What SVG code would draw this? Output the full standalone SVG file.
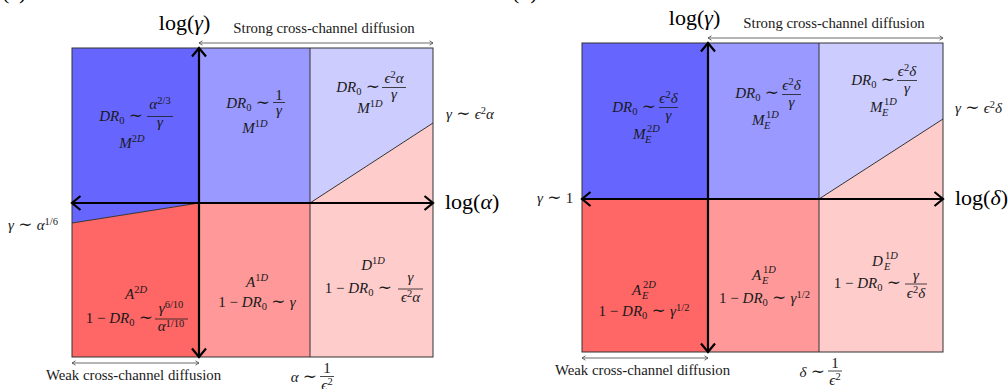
<svg xmlns="http://www.w3.org/2000/svg" width="1008" height="389" viewBox="0 0 1008 389">
<defs>
<style>
.m{font-family:"Liberation Serif","DejaVu Serif",serif;font-size:15px;fill:#1a1a1a}
.i{font-style:italic}
.s{font-size:10.5px}
.t{font-size:17px}
.lb{font-family:"Liberation Serif","DejaVu Serif",serif;font-size:14.8px;fill:#1a1a1a}
.ax{font-family:"Liberation Serif","DejaVu Serif",serif;font-size:22px;fill:#000}
.grid{fill:none;stroke:#333;stroke-width:1}
.axis{stroke:#000;stroke-width:2.2;fill:none}
.thin{stroke:#444;stroke-width:0.8;fill:none}
.bar{stroke:#1a1a1a;stroke-width:0.8}
.b1{fill:#6666ff}.b2{fill:#9999ff}.b3{fill:#ccccff}.r1{fill:#ff6666}.r2{fill:#ff9999}.r3{fill:#ffcccc}
</style>
<marker id="ch" viewBox="-11 -9 13 18" markerWidth="13" markerHeight="18" refX="0" refY="0" orient="auto-start-reverse" markerUnits="userSpaceOnUse">
<path d="M-8.5,-7 L0,0 L-8.5,7" fill="none" stroke="#000" stroke-width="2.2" stroke-linejoin="miter"/>
</marker>
<marker id="sm" viewBox="-6 -4 8 8" markerWidth="8" markerHeight="8" refX="0" refY="0" orient="auto-start-reverse" markerUnits="userSpaceOnUse">
<path d="M-3.5,-2.2 L0,0 L-3.5,2.2" fill="none" stroke="#444" stroke-width="0.8"/>
</marker>
</defs>

<text class="ax" x="2" y="-1">(a)</text>
<text class="ax" x="512" y="-1">(b)</text>

<!-- Panel (a) -->
<g id="a-M2D">
<polygon class="b1" points="72,48 199,48 199,203 72,223"/>
<text class="m" x="143" y="121" text-anchor="end"><tspan class="i">DR</tspan><tspan class="s" dy="2.5">0</tspan><tspan class="t" dy="-2.5"> ∼</tspan></text>
<line class="bar" x1="147" y1="116.5" x2="173" y2="116.5"/>
<text class="m" x="160" y="109" text-anchor="middle"><tspan class="i">α</tspan><tspan class="s" dy="-5.5">2/3</tspan></text>
<text class="m i" x="160" y="127" text-anchor="middle">γ</text>
<text class="m" x="132" y="148" text-anchor="middle"><tspan class="i">M</tspan><tspan class="s" dy="-6">2<tspan class="i">D</tspan></tspan></text>
</g>
<g id="a-M1D-low">
<rect class="b2" x="199" y="48" width="111" height="155"/>
<text class="m" x="270" y="108" text-anchor="end"><tspan class="i">DR</tspan><tspan class="s" dy="2.5">0</tspan><tspan class="t" dy="-2.5"> ∼</tspan></text>
<line class="bar" x1="273" y1="102.5" x2="285" y2="102.5"/>
<text class="m" x="279" y="100" text-anchor="middle">1</text>
<text class="m i" x="279" y="115" text-anchor="middle">γ</text>
<text class="m" x="255" y="133" text-anchor="middle"><tspan class="i">M</tspan><tspan class="s" dy="-6">1<tspan class="i">D</tspan></tspan></text>
</g>
<g id="a-M1D-high">
<polygon class="b3" points="310,48 433,48 433,123 310,203"/>
<text class="m" x="380" y="92" text-anchor="end"><tspan class="i">DR</tspan><tspan class="s" dy="2.5">0</tspan><tspan class="t" dy="-2.5"> ∼</tspan></text>
<line class="bar" x1="382" y1="87.5" x2="406" y2="87.5"/>
<text class="m" x="394" y="83" text-anchor="middle"><tspan class="i">ϵ</tspan><tspan class="s" dy="-5.5">2</tspan><tspan class="i" dy="5.5">α</tspan></text>
<text class="m i" x="394" y="99" text-anchor="middle">γ</text>
<text class="m" x="370" y="113" text-anchor="middle"><tspan class="i">M</tspan><tspan class="s" dy="-6">1<tspan class="i">D</tspan></tspan></text>
</g>
<g id="a-A2D">
<polygon class="r1" points="72,223 199,203 199,357 72,357"/>
<text class="m" x="136" y="299" text-anchor="middle"><tspan class="i">A</tspan><tspan class="s" dy="-6">2<tspan class="i">D</tspan></tspan></text>
<text class="m" x="153" y="323" text-anchor="end">1 − <tspan class="i">DR</tspan><tspan class="s" dy="2.5">0</tspan><tspan class="t" dy="-2.5"> ∼</tspan></text>
<line class="bar" x1="155" y1="319" x2="188" y2="319"/>
<text class="m" x="171" y="313" text-anchor="middle"><tspan class="i">γ</tspan><tspan class="s" dy="-5.5">6/10</tspan></text>
<text class="m" x="171" y="331" text-anchor="middle"><tspan class="i">α</tspan><tspan class="s" dy="-4">1/10</tspan></text>
</g>
<g id="a-A1D">
<rect class="r2" x="199" y="203" width="111" height="154"/>
<text class="m" x="257" y="287" text-anchor="middle"><tspan class="i">A</tspan><tspan class="s" dy="-6">1<tspan class="i">D</tspan></tspan></text>
<text class="m" x="257" y="307" text-anchor="middle">1 − <tspan class="i">DR</tspan><tspan class="s" dy="2.5">0</tspan><tspan class="t" dy="-2.5"> ∼ </tspan><tspan class="i">γ</tspan></text>
</g>
<g id="a-D1D">
<polygon class="r3" points="310,203 433,123 433,357 310,357"/>
<text class="m" x="373" y="270" text-anchor="middle"><tspan class="i">D</tspan><tspan class="s" dy="-6">1<tspan class="i">D</tspan></tspan></text>
<text class="m" x="392" y="293" text-anchor="end">1 − <tspan class="i">DR</tspan><tspan class="s" dy="2.5">0</tspan><tspan class="t" dy="-2.5"> ∼</tspan></text>
<line class="bar" x1="398" y1="289" x2="423" y2="289"/>
<text class="m i" x="410.5" y="282" text-anchor="middle">γ</text>
<text class="m" x="410.5" y="302" text-anchor="middle"><tspan class="i">ϵ</tspan><tspan class="s" dy="-5.5">2</tspan><tspan class="i" dy="5.5">α</tspan></text>
</g>

<!-- Panel (b) -->
<g id="b-ME2D">
<rect class="b1" x="582" y="43" width="126" height="156"/>
<text class="m" x="656" y="112" text-anchor="end"><tspan class="i">DR</tspan><tspan class="s" dy="2.5">0</tspan><tspan class="t" dy="-2.5"> ∼</tspan></text>
<line class="bar" x1="659" y1="107.5" x2="678" y2="107.5"/>
<text class="m" x="668.5" y="103" text-anchor="middle"><tspan class="i">ϵ</tspan><tspan class="s" dy="-5.5">2</tspan><tspan class="i" dy="5.5">δ</tspan></text>
<text class="m i" x="668.5" y="120" text-anchor="middle">γ</text>
<text class="m i" x="633" y="139">M</text>
<text class="m s" x="647" y="132">2<tspan class="i">D</tspan></text>
<text class="m s i" x="645" y="143">E</text>
</g>
<g id="b-ME1D-low">
<rect class="b2" x="708" y="43" width="111" height="156"/>
<text class="m" x="779" y="98" text-anchor="end"><tspan class="i">DR</tspan><tspan class="s" dy="2.5">0</tspan><tspan class="t" dy="-2.5"> ∼</tspan></text>
<line class="bar" x1="782" y1="94.5" x2="801" y2="94.5"/>
<text class="m" x="791.5" y="90" text-anchor="middle"><tspan class="i">ϵ</tspan><tspan class="s" dy="-5.5">2</tspan><tspan class="i" dy="5.5">δ</tspan></text>
<text class="m i" x="791.5" y="107" text-anchor="middle">γ</text>
<text class="m i" x="752" y="125">M</text>
<text class="m s" x="766" y="118">1<tspan class="i">D</tspan></text>
<text class="m s i" x="764" y="129">E</text>
</g>
<g id="b-ME1D-high">
<polygon class="b3" points="819,43 943,43 943,119 819,199"/>
<text class="m" x="895" y="85" text-anchor="end"><tspan class="i">DR</tspan><tspan class="s" dy="2.5">0</tspan><tspan class="t" dy="-2.5"> ∼</tspan></text>
<line class="bar" x1="897" y1="80.5" x2="917" y2="80.5"/>
<text class="m" x="907" y="76" text-anchor="middle"><tspan class="i">ϵ</tspan><tspan class="s" dy="-5.5">2</tspan><tspan class="i" dy="5.5">δ</tspan></text>
<text class="m i" x="907" y="93" text-anchor="middle">γ</text>
<text class="m i" x="870" y="112">M</text>
<text class="m s" x="884" y="105">1<tspan class="i">D</tspan></text>
<text class="m s i" x="882" y="116">E</text>
</g>
<g id="b-AE2D">
<rect class="r1" x="582" y="199" width="126" height="153"/>
<text class="m i" x="632" y="295">A</text>
<text class="m s" x="643" y="288">2<tspan class="i">D</tspan></text>
<text class="m s i" x="642" y="299">E</text>
<text class="m" x="644" y="316" text-anchor="middle">1 − <tspan class="i">DR</tspan><tspan class="s" dy="2.5">0</tspan><tspan class="t" dy="-2.5"> ∼ </tspan><tspan class="i">γ</tspan><tspan class="s" dy="-5.5">1/2</tspan></text>
</g>
<g id="b-AE1D">
<rect class="r2" x="708" y="199" width="111" height="153"/>
<text class="m i" x="752" y="280">A</text>
<text class="m s" x="763" y="273">1<tspan class="i">D</tspan></text>
<text class="m s i" x="762" y="284">E</text>
<text class="m" x="764.5" y="303" text-anchor="middle">1 − <tspan class="i">DR</tspan><tspan class="s" dy="2.5">0</tspan><tspan class="t" dy="-2.5"> ∼ </tspan><tspan class="i">γ</tspan><tspan class="s" dy="-5.5">1/2</tspan></text>
</g>
<g id="b-DE1D">
<polygon class="r3" points="819,199 943,119 943,352 819,352"/>
<text class="m i" x="872" y="266">D</text>
<text class="m s" x="885" y="259">1<tspan class="i">D</tspan></text>
<text class="m s i" x="884" y="270">E</text>
<text class="m" x="901" y="288" text-anchor="end">1 − <tspan class="i">DR</tspan><tspan class="s" dy="2.5">0</tspan><tspan class="t" dy="-2.5"> ∼</tspan></text>
<line class="bar" x1="905" y1="284" x2="927" y2="284"/>
<text class="m i" x="916" y="280" text-anchor="middle">γ</text>
<text class="m" x="916" y="298" text-anchor="middle"><tspan class="i">ϵ</tspan><tspan class="s" dy="-5.5">2</tspan><tspan class="i" dy="5.5">δ</tspan></text>
</g>

<!-- region boundaries -->
<g id="boundaries">
<rect class="grid" x="72" y="48" width="361" height="309"/>
<line class="grid" x1="310" y1="48" x2="310" y2="357"/>
<line class="grid" x1="72" y1="223" x2="199" y2="203"/>
<line class="grid" x1="310" y1="203" x2="433" y2="123"/>
<rect class="grid" x="582" y="43" width="361" height="309"/>
<line class="grid" x1="819" y1="43" x2="819" y2="352"/>
<line class="grid" x1="819" y1="199" x2="943" y2="119"/>
</g>

<!-- connectors: axes and range arrows -->
<g id="connectors">
<line class="axis" x1="72" y1="203" x2="433" y2="203" marker-start="url(#ch)" marker-end="url(#ch)"/>
<line class="axis" x1="199" y1="357" x2="199" y2="48" marker-start="url(#ch)" marker-end="url(#ch)"/>
<line class="thin" x1="199" y1="43" x2="433" y2="43" marker-start="url(#sm)" marker-end="url(#sm)"/>
<line class="thin" x1="72" y1="363" x2="199" y2="363" marker-start="url(#sm)" marker-end="url(#sm)"/>
<line class="axis" x1="582" y1="199" x2="943" y2="199" marker-start="url(#ch)" marker-end="url(#ch)"/>
<line class="axis" x1="708" y1="352" x2="708" y2="43" marker-start="url(#ch)" marker-end="url(#ch)"/>
<line class="thin" x1="708" y1="38" x2="943" y2="38" marker-start="url(#sm)" marker-end="url(#sm)"/>
<line class="thin" x1="582" y1="358" x2="708" y2="358" marker-start="url(#sm)" marker-end="url(#sm)"/>
</g>

<!-- annotations -->
<g id="annotations-a">
<text class="ax" x="184.5" y="30" text-anchor="middle">log(<tspan class="i">γ</tspan>)</text>
<text class="ax" x="445" y="209">log(<tspan class="i">α</tspan>)</text>
<text class="lb" x="324" y="33" text-anchor="middle">Strong cross-channel diffusion</text>
<text class="lb" x="133.5" y="380" text-anchor="middle">Weak cross-channel diffusion</text>
<text class="m" x="446" y="119"><tspan class="i">γ</tspan><tspan class="t"> ∼ </tspan><tspan class="i">ϵ</tspan><tspan class="s" dy="-5.5">2</tspan><tspan class="i" dy="5.5">α</tspan></text>
<text class="m" x="8" y="230"><tspan class="i">γ</tspan><tspan class="t"> ∼ </tspan><tspan class="i">α</tspan><tspan class="s" dy="-5.5">1/6</tspan></text>
<text class="m" x="317" y="382" text-anchor="end"><tspan class="i">α</tspan><tspan class="t"> ∼</tspan></text>
<line class="bar" x1="320" y1="376.5" x2="334" y2="376.5"/>
<text class="m" x="327" y="373" text-anchor="middle">1</text>
<text class="m" x="327" y="390" text-anchor="middle"><tspan class="i">ϵ</tspan><tspan class="s" dy="-5.5">2</tspan></text>
</g>
<g id="annotations-b">
<text class="ax" x="694.5" y="25" text-anchor="middle">log(<tspan class="i">γ</tspan>)</text>
<text class="ax" x="955" y="205">log(<tspan class="i">δ</tspan>)</text>
<text class="lb" x="834" y="28" text-anchor="middle">Strong cross-channel diffusion</text>
<text class="lb" x="642.5" y="375" text-anchor="middle">Weak cross-channel diffusion</text>
<text class="m" x="955" y="113"><tspan class="i">γ</tspan><tspan class="t"> ∼ </tspan><tspan class="i">ϵ</tspan><tspan class="s" dy="-5.5">2</tspan><tspan class="i" dy="5.5">δ</tspan></text>
<text class="m" x="537" y="203"><tspan class="i">γ</tspan><tspan class="t"> ∼ </tspan>1</text>
<text class="m" x="825" y="377" text-anchor="end"><tspan class="i">δ</tspan><tspan class="t"> ∼</tspan></text>
<line class="bar" x1="828" y1="371" x2="842" y2="371"/>
<text class="m" x="835" y="368" text-anchor="middle">1</text>
<text class="m" x="835" y="385" text-anchor="middle"><tspan class="i">ϵ</tspan><tspan class="s" dy="-5.5">2</tspan></text>
</g>
</svg>
